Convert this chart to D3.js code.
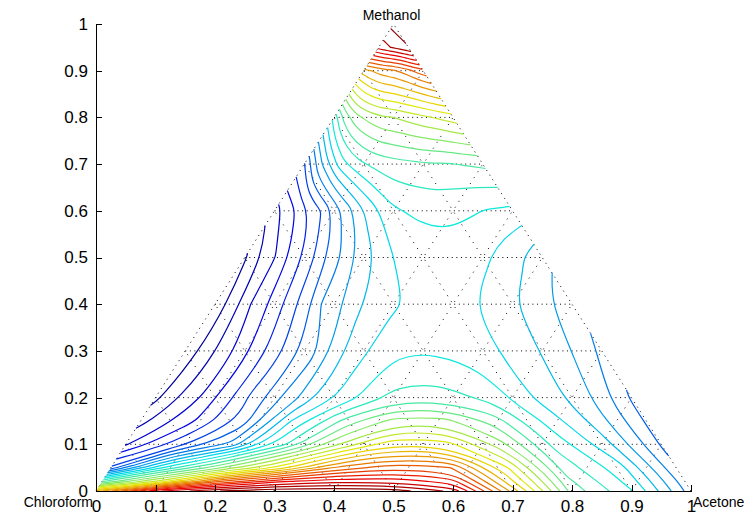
<!DOCTYPE html>
<html lang="en">
<head>
<meta charset="UTF-8">
<title>Ternary contour</title>
<script src="https://cdnjs.cloudflare.com/ajax/libs/d3/7.8.5/d3.min.js"></script>
<style>
  body { margin: 0; background: #fff; }
  .axis path, .axis line { fill: none; stroke: #000; shape-rendering: crispEdges; }
  .axis text { font-family: "Liberation Sans", Arial, sans-serif; font-size: 17px; fill: #000; }
  .corner { font-family: "Liberation Sans", Arial, sans-serif; font-size: 14px; fill: #000; }
</style>
</head>
<body>
<script>
const width = 755, height = 515;

// axis ticks
const xTicks = [0, 0.1, 0.2, 0.3, 0.4, 0.5, 0.6, 0.7, 0.8, 0.9, 1];
const yTicks = [0, 0.1, 0.2, 0.3, 0.4, 0.5, 0.6, 0.7, 0.8, 0.9, 1];
const gridSteps = [0.1, 0.2, 0.3, 0.4, 0.5, 0.6, 0.7, 0.8, 0.9];

// measurement grid: each row is a methanol fraction, columns go from the
// chloroform-methanol edge (u = 0) to the acetone-methanol edge (u = 1)
const uCols = [0, 0.1, 0.2, 0.3, 0.4, 0.5, 0.6, 0.7, 0.8, 0.9, 1];
const mRows = [0, 0.02, 0.05, 0.1, 0.15, 0.2, 0.3, 0.4, 0.5, 0.6, 0.7, 0.8, 0.9, 0.95, 1];
const fieldRows = [
  [0.69, 0.90, 0.97, 1.00, 1.00, 0.99, 0.93, 0.70, 0.47, 0.39, 0.24],
  [0.45, 0.60, 0.78, 0.87, 0.90, 0.90, 0.86, 0.66, 0.46, 0.38, 0.24],
  [0.20, 0.40, 0.52, 0.63, 0.75, 0.80, 0.78, 0.62, 0.44, 0.37, 0.23],
  [0.09, 0.18, 0.27, 0.42, 0.55, 0.64, 0.63, 0.53, 0.41, 0.33, 0.22],
  [0.05, 0.12, 0.20, 0.36, 0.46, 0.53, 0.53, 0.47, 0.38, 0.31, 0.22],
  [0.02, 0.10, 0.20, 0.29, 0.37, 0.43, 0.435, 0.41, 0.35, 0.30, 0.22],
  [0.005, 0.08, 0.16, 0.24, 0.335, 0.383, 0.385, 0.37, 0.34, 0.305, 0.25],
  [0.0, 0.095, 0.17, 0.26, 0.317, 0.35, 0.368, 0.362, 0.335, 0.305, 0.27],
  [0.025, 0.093, 0.162, 0.24, 0.305, 0.355, 0.371, 0.373, 0.362, 0.335, 0.30],
  [0.08, 0.135, 0.195, 0.27, 0.335, 0.383, 0.393, 0.397, 0.393, 0.385, 0.38],
  [0.19, 0.29, 0.37, 0.41, 0.43, 0.44, 0.445, 0.45, 0.45, 0.455, 0.46],
  [0.40, 0.47, 0.51, 0.53, 0.545, 0.55, 0.56, 0.57, 0.58, 0.59, 0.60],
  [0.70, 0.71, 0.72, 0.73, 0.735, 0.74, 0.75, 0.76, 0.775, 0.79, 0.80],
  [0.92, 0.925, 0.93, 0.935, 0.94, 0.945, 0.95, 0.955, 0.96, 0.965, 0.97],
  [0.985, 0.985, 0.985, 0.985, 0.985, 0.985, 0.985, 0.985, 0.985, 0.985, 0.985]
];
const levels = d3.range(30).map(i => 0.03 + i * 0.0325);

const x = d3.scaleLinear().domain([0, 1]).range([96, 691]);
const y = d3.scaleLinear().domain([0, 1]).range([491, 24]);

// MATLAB jet, a little darker like the thin lines of the original
const jetBase = d3.scaleLinear()
  .domain([0, 0.125, 0.375, 0.625, 0.875, 1])
  .range(["#00008f", "#0000ff", "#00ffff", "#ffff00", "#ff0000", "#800000"]);
const jet = v => d3.color(jetBase(v)).darker(0.25).formatHex();

const svg = d3.select("body").append("svg")
  .attr("width", width).attr("height", height);

// dotted triangle grid
const dots = svg.append("g").attr("fill", "none").attr("stroke", "#000")
  .attr("stroke-width", 1);
const seg = (x1, y1, x2, y2, dash) => dots.append("line")
  .attr("stroke-dasharray", dash)
  .attr("x1", x(x1)).attr("y1", y(y1)).attr("x2", x(x2)).attr("y2", y(y2));
gridSteps.forEach(t => {
  seg(t / 2, t, 1 - t / 2, t, "1,3.6");            // constant methanol
  seg(t, 0, t + (1 - t) / 2, 1 - t, "1,6");        // constant acetone
  seg(1 - t, 0, (1 - t) / 2, 1 - t, "1,6");        // constant chloroform
});
seg(0, 0, 0.5, 1, "1,4.5");
seg(1, 0, 0.5, 1, "1,4.5");

// contours
const nU = uCols.length, nR = mRows.length;
const colScale = d3.scaleLinear().domain(d3.range(nU)).range(uCols);
const rowScale = d3.scaleLinear().domain(d3.range(nR)).range(mRows);
function toXY(p) {
  const u = colScale(p[0] - 0.5), m = rowScale(p[1] - 0.5);
  return [x(u * (1 - m) + m / 2), y(m)];
}
const onBorder = p => p[0] <= 0 || p[0] >= nU || p[1] <= 0 || p[1] >= nR;
function splitRing(ring) {
  const pts = ring.slice(0, ring.length - 1);
  const start = pts.findIndex(onBorder);
  if (start < 0) return [{pts, closed: true}];
  const rot = pts.slice(start).concat(pts.slice(0, start));
  const out = [];
  let cur = [];
  rot.forEach(p => {
    if (onBorder(p)) { if (cur.length > 1) out.push({pts: cur, closed: false}); cur = []; }
    else cur.push(p);
  });
  if (cur.length > 1) out.push({pts: cur, closed: false});
  return out;
}

const contours = d3.contours().size([nU, nR]).thresholds(levels)(fieldRows.flat());
const openLine = d3.line().curve(d3.curveBasis);
const closedLine = d3.line().curve(d3.curveBasisClosed);
const cg = svg.append("g").attr("fill", "none").attr("stroke-width", 1.2);
contours.forEach(c => {
  c.coordinates.forEach(poly => poly.forEach(ring => {
    splitRing(ring).forEach(s => {
      const pts = s.pts.map(toXY);
      cg.append("path")
        .attr("d", s.closed ? closedLine(pts) : openLine(pts))
        .attr("stroke", jet(c.value));
    });
  }));
});

// axes
svg.append("g").attr("class", "axis")
  .attr("transform", `translate(0,${y(0)})`)
  .call(d3.axisBottom(x).tickValues(xTicks).tickFormat(d => String(d))
    .tickSizeInner(-6).tickSizeOuter(0).tickPadding(9));
svg.append("g").attr("class", "axis")
  .attr("transform", `translate(${x(0)},0)`)
  .call(d3.axisLeft(y).tickValues(yTicks).tickFormat(d => String(d))
    .tickSizeInner(-6).tickSizeOuter(0).tickPadding(8));

// corner labels
svg.append("text").attr("class", "corner").attr("x", x(0.5) - 2).attr("y", 20)
  .attr("text-anchor", "middle").text("Methanol");
svg.append("text").attr("class", "corner").attr("x", x(0) - 3).attr("y", 507)
  .attr("text-anchor", "end").text("Chloroform");
svg.append("text").attr("class", "corner").attr("x", x(1) + 2).attr("y", 507)
  .attr("text-anchor", "start").text("Acetone");
</script>
</body>
</html>
